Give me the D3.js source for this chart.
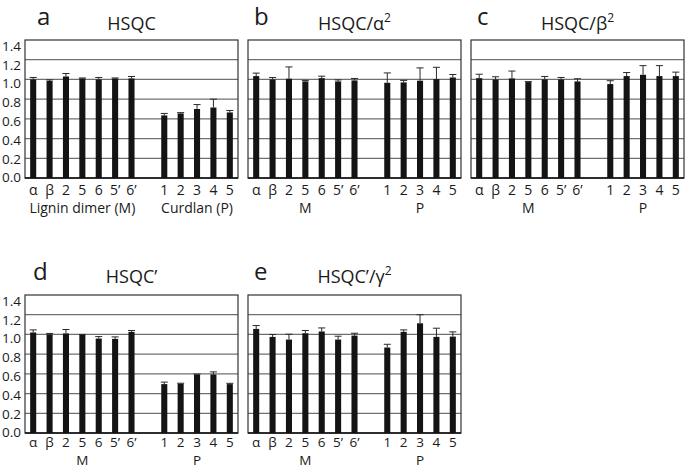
<!DOCTYPE html>
<html>
<head>
<meta charset="utf-8">
<script src="https://cdn.jsdelivr.net/npm/d3@7"></script>
<style>
  body { margin: 0; background: #fff; }
  svg { display: block; font-family: "Open Sans", "Noto Sans", sans-serif; }
</style>
</head>
<body>
<svg id="chart"></svg>
<script>
// categories
const mLabels = ["α", "β", "2", "5", "6", "5’", "6’"];
const pLabels = ["1", "2", "3", "4", "5"];
const yTicks = [0, 0.2, 0.4, 0.6, 0.8, 1.0, 1.2, 1.4];

// a  HSQC
const aMeanM = [1.00, 0.985, 1.03, 1.01, 1.00, 1.01, 1.01];
const aErrM  = [0.02, 0.01, 0.03, 0.005, 0.02, 0.005, 0.02];
const aMeanP = [0.635, 0.655, 0.70, 0.715, 0.665];
const aErrP  = [0.02, 0.008, 0.045, 0.085, 0.02];

// b  HSQC/alpha^2
const bMeanM = [1.034, 1.0, 1.007, 0.98, 1.013, 0.98, 0.99];
const bErrM  = [0.03, 0.02, 0.12, 0.01, 0.02, 0.015, 0.02];
const bMeanP = [0.966, 0.97, 0.987, 1.003, 1.02];
const bErrP  = [0.10, 0.02, 0.13, 0.12, 0.03];

// c  HSQC/beta^2
const cMeanM = [1.013, 1.0, 1.01, 0.973, 1.0, 1.0, 0.98];
const cErrM  = [0.04, 0.027, 0.075, 0.005, 0.03, 0.02, 0.027];
const cMeanP = [0.953, 1.034, 1.047, 1.034, 1.034];
const cErrP  = [0.034, 0.036, 0.093, 0.106, 0.04];

// d  HSQC'
const dMeanM = [1.02, 1.0, 1.01, 0.995, 0.958, 0.955, 1.026];
const dErrM  = [0.026, 0.01, 0.04, 0.005, 0.02, 0.02, 0.014];
const dMeanP = [0.496, 0.5, 0.594, 0.594, 0.496];
const dErrP  = [0.02, 0.005, 0.004, 0.026, 0.008];

// e  HSQC'/gamma^2
const eMeanM = [1.056, 0.975, 0.948, 1.012, 1.03, 0.948, 0.988];
const eErrM  = [0.034, 0.024, 0.054, 0.028, 0.036, 0.034, 0.024];
const eMeanP = [0.867, 1.026, 1.113, 0.975, 0.978];
const eErrP  = [0.033, 0.02, 0.087, 0.088, 0.048];

const width = 685;
const height = 469;
const plotW = 213;
const plotH = 138;
const ink = "#1a1a1a";

// slot ids: 7 M bars, one empty slot, 5 P bars
const ids = mLabels.map((d, i) => "M" + i)
    .concat(["gap"])
    .concat(pLabels.map((d, i) => "P" + i));
const idLabel = id => id === "gap" ? "" : (id[0] === "M" ? mLabels[+id.slice(1)] : pLabels[+id.slice(1)]);

const panels = [
    { letter: "a", title: "HSQC", sup: "", x: 25, y: 40, lx: 12, mM: aMeanM, eM: aErrM, mP: aMeanP, eP: aErrP, groups: ["Lignin dimer (M)", "Curdlan (P)"], row: 0 },
    { letter: "b", title: "HSQC/α", sup: "2", x: 248, y: 40, lx: 6, mM: bMeanM, eM: bErrM, mP: bMeanP, eP: bErrP, groups: ["M", "P"], row: 0 },
    { letter: "c", title: "HSQC/β", sup: "2", x: 471, y: 40, lx: 6, mM: cMeanM, eM: cErrM, mP: cMeanP, eP: cErrP, groups: ["M", "P"], row: 0 },
    { letter: "d", title: "HSQC’", sup: "", x: 25, y: 295, lx: 8, mM: dMeanM, eM: dErrM, mP: dMeanP, eP: dErrP, groups: ["M", "P"], row: 1 },
    { letter: "e", title: "HSQC’/γ", sup: "2", x: 248, y: 295, lx: 6, mM: eMeanM, eM: eErrM, mP: eMeanP, eP: eErrP, groups: ["M", "P"], row: 1 },
];

const svg = d3.select("#chart")
    .attr("width", width)
    .attr("height", height);

panels.forEach(p => {
    const rows = p.mM.map((v, i) => ({ id: "M" + i, value: v, err: p.eM[i] }))
        .concat(p.mP.map((v, i) => ({ id: "P" + i, value: v, err: p.eP[i] })));

    const xScale = d3.scaleBand()
        .domain(ids)
        .range([p.x, p.x + plotW])
        .paddingInner(0.63)
        .paddingOuter(0.315);

    const yScale = d3.scaleLinear()
        .domain([0, 1.4])
        .range([p.y + plotH, p.y]);

    // labels sit a little lower than the gridlines near the top
    const labelScale = d3.scaleLinear()
        .domain([0, 1.4])
        .range([p.y + plotH - 0.5, p.y + 6]);

    const g = svg.append("g");

    // gridlines
    g.append("g")
        .selectAll("line")
        .data(yTicks.slice(1, -1))
        .join("line")
        .attr("x1", p.x)
        .attr("x2", p.x + plotW)
        .attr("y1", d => yScale(d))
        .attr("y2", d => yScale(d))
        .attr("stroke", "#707070")
        .attr("stroke-width", 1.3);

    // frame
    g.append("rect")
        .attr("x", p.x)
        .attr("y", p.y)
        .attr("width", plotW)
        .attr("height", plotH)
        .attr("fill", "none")
        .attr("stroke", "#333")
        .attr("stroke-width", 1.2);

    // bars
    g.append("g")
        .selectAll("rect")
        .data(rows)
        .join("rect")
        .attr("x", d => xScale(d.id))
        .attr("y", d => yScale(d.value))
        .attr("width", xScale.bandwidth())
        .attr("height", d => yScale(0) - yScale(d.value))
        .attr("fill", "#141414");

    // error bars (upper half)
    const eb = g.append("g")
        .attr("stroke", "#2a2a2a")
        .attr("stroke-width", 1);
    eb.selectAll("line.v")
        .data(rows)
        .join("line")
        .attr("class", "v")
        .attr("x1", d => xScale(d.id) + xScale.bandwidth() / 2)
        .attr("x2", d => xScale(d.id) + xScale.bandwidth() / 2)
        .attr("y1", d => yScale(d.value))
        .attr("y2", d => yScale(d.value + d.err));
    eb.selectAll("line.cap")
        .data(rows)
        .join("line")
        .attr("class", "cap")
        .attr("x1", d => xScale(d.id) - 0.5)
        .attr("x2", d => xScale(d.id) + xScale.bandwidth() + 0.5)
        .attr("y1", d => yScale(d.value + d.err))
        .attr("y2", d => yScale(d.value + d.err));

    // x baseline
    g.append("line")
        .attr("x1", p.x)
        .attr("x2", p.x + plotW)
        .attr("y1", yScale(0))
        .attr("y2", yScale(0))
        .attr("stroke", "#111")
        .attr("stroke-width", 1.5);

    // y axis labels (only for left column)
    if (p.x < 100) {
        const yAxis = g.append("g")
            .attr("transform", `translate(${p.x},0)`)
            .call(d3.axisLeft(labelScale).tickValues(yTicks).tickFormat(d3.format(".1f")).tickSize(0).tickPadding(4));
        yAxis.select(".domain").remove();
        yAxis.selectAll("text")
            .attr("font-family", "Open Sans, sans-serif")
            .attr("font-size", 13.5)
            .attr("fill", ink);
    }

    // x axis labels
    const fs = p.row === 0 ? 14 : 13.5;
    const xAxis = g.append("g")
        .attr("transform", `translate(0,${yScale(0)})`)
        .call(d3.axisBottom(xScale).tickFormat(idLabel).tickSize(0).tickPadding(p.row === 0 ? 7 : 4));
    xAxis.select(".domain").remove();
    xAxis.selectAll("text")
        .attr("font-family", "Open Sans, sans-serif")
        .attr("font-size", fs)
        .attr("fill", ink);

    // group labels
    const mCenter = (xScale("M0") + xScale("M6") + xScale.bandwidth()) / 2;
    const pCenter = (xScale("P0") + xScale("P4") + xScale.bandwidth()) / 2;
    g.selectAll("text.grp")
        .data([mCenter, pCenter])
        .join("text")
        .attr("class", "grp")
        .attr("x", d => d)
        .attr("y", yScale(0) + (p.row === 0 ? 35 : 32))
        .attr("text-anchor", "middle")
        .attr("font-size", fs)
        .attr("fill", ink)
        .text((d, i) => p.groups[i]);

    // title
    const t = g.append("text")
        .attr("x", p.x + plotW / 2)
        .attr("y", p.y - (p.row === 0 ? 10 : 12))
        .attr("text-anchor", "middle")
        .attr("font-size", 18)
        .attr("fill", ink)
        .text(p.title);
    if (p.sup) {
        t.append("tspan")
            .attr("dy", -8)
            .attr("font-size", 12)
            .text(p.sup);
    }

    // panel letter
    g.append("text")
        .attr("x", p.x + p.lx)
        .attr("y", p.y - 15)
        .attr("font-size", 24)
        .attr("fill", ink)
        .text(p.letter);
});
</script>
</body>
</html>
